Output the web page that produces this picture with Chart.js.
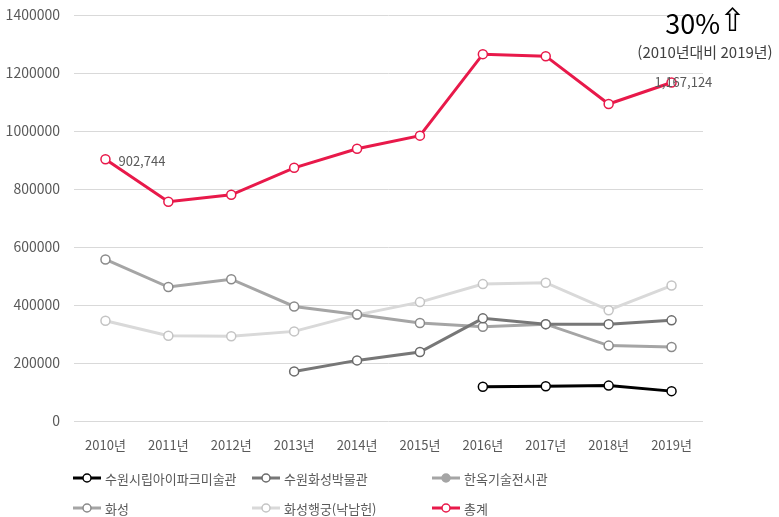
<!DOCTYPE html>
<html lang="ko">
<head>
<meta charset="utf-8">
<title>수원시 문화시설 관람객 추이</title>
<script src="https://cdn.jsdelivr.net/npm/chart.js@4"></script>
<style>
  html, body { margin: 0; padding: 0; background: #fff; }
  #wrap { width: 779px; height: 517px; }
</style>
</head>
<body>
<div id="wrap"><canvas id="chart" width="779" height="517"></canvas></div>
<script>
const years = ['2010년', '2011년', '2012년', '2013년', '2014년', '2015년', '2016년', '2017년', '2018년', '2019년'];

// 시설별 연간 관람객 수
const artMuseum = [null, null, null, null, null, null, 118000, 120000, 122000, 103000];
const hwaseongMuseum = [null, null, null, 171000, 209000, 238000, 354000, 334000, 334000, 347000];
const hanokHall = [null, null, null, null, null, null, null, null, null, null];
const hwaseong = [557000, 462000, 489000, 395000, 367000, 338000, 325000, 334000, 260000, 255000];
const haenggung = [345744, 294000, 292000, 309000, 366000, 410000, 472000, 477000, 382000, 467000];
const total = [902744, 756000, 780000, 873000, 939000, 984000, 1265000, 1258000, 1093000, 1167124];

const yTicks = [0, 200000, 400000, 600000, 800000, 1000000, 1200000, 1400000];

const FONT = "'Noto Sans CJK KR', 'Noto Sans', sans-serif";
const TEXT = '#595959';

function line(label, data, color, pointBorder, pointFill, order) {
  return {
    label: label,
    data: data,
    borderColor: color,
    backgroundColor: color,
    borderWidth: 3,
    pointRadius: 4.5,
    pointBorderWidth: 1.5,
    pointBorderColor: pointBorder,
    pointBackgroundColor: pointFill,
    spanGaps: false,
    order: order
  };
}

// 범례: 3열 격자
const gridLegend = {
  id: 'gridLegend',
  afterDraw(chart) {
    const ctx = chart.ctx;
    const cols = [73, 252, 432];
    const rows = [478, 508];
    ctx.save();
    chart.data.datasets.forEach((ds, i) => {
      const x = cols[i % 3];
      const y = rows[Math.floor(i / 3)];
      ctx.strokeStyle = ds.borderColor;
      ctx.lineWidth = 3;
      ctx.beginPath();
      ctx.moveTo(x, y);
      ctx.lineTo(x + 28, y);
      ctx.stroke();
      ctx.beginPath();
      ctx.arc(x + 14, y, 4, 0, Math.PI * 2);
      ctx.fillStyle = ds.pointBackgroundColor;
      ctx.fill();
      ctx.lineWidth = 1.5;
      ctx.strokeStyle = ds.pointBorderColor;
      ctx.stroke();
      ctx.fillStyle = TEXT;
      ctx.font = '13px ' + FONT;
      ctx.textAlign = 'left';
      ctx.textBaseline = 'middle';
      ctx.fillText(ds.label, x + 32, y + 1);
    });
    ctx.restore();
  }
};

// 총계 값 표시와 증가율 문구
const notes = {
  id: 'notes',
  afterDatasetsDraw(chart) {
    const ctx = chart.ctx;
    const meta = chart.getDatasetMeta(5);
    const first = meta.data[0];
    const last = meta.data[meta.data.length - 1];
    ctx.save();
    ctx.fillStyle = TEXT;
    ctx.font = '13px ' + FONT;
    ctx.textBaseline = 'middle';
    ctx.textAlign = 'left';
    ctx.fillText(total[0].toLocaleString('en-US'), first.x + 13, first.y + 2);
    ctx.fillText(total[total.length - 1].toLocaleString('en-US'), last.x - 17, last.y);

    ctx.fillStyle = '#000';
    ctx.textAlign = 'right';
    ctx.font = '27px ' + FONT;
    ctx.fillText('30%', 720, 24);
    ctx.font = '32px "DejaVu Sans", sans-serif';
    ctx.textAlign = 'left';
    ctx.fillText('⇧', 719, 23);
    ctx.fillStyle = '#404040';
    ctx.font = '15px ' + FONT;
    ctx.textAlign = 'center';
    ctx.fillText('(2010년대비 2019년)', 705, 52);
    ctx.restore();
  }
};

new Chart(document.getElementById('chart'), {
  type: 'line',
  data: {
    labels: years,
    datasets: [
      line('수원시립아이파크미술관', artMuseum, '#000000', '#000000', '#ffffff', 1),
      line('수원화성박물관', hwaseongMuseum, '#777777', '#6a6a6a', '#ffffff', 1),
      line('한옥기술전시관', hanokHall, '#a5a5a5', '#a5a5a5', '#a5a5a5', 1),
      line('화성', hwaseong, '#a5a5a5', '#8a8a8a', '#ffffff', 1),
      line('화성행궁(낙남헌)', haenggung, '#d9d9d9', '#c4c4c4', '#ffffff', 1),
      line('총계', total, '#e8194a', '#e8194a', '#ffffff', 0)
    ]
  },
  options: {
    responsive: false,
    animation: false,
    layout: { padding: { top: 15, right: 76, bottom: 61, left: 0 } },
    plugins: {
      legend: { display: false },
      tooltip: { enabled: false }
    },
    scales: {
      x: {
        offset: true,
        grid: { display: false },
        border: { display: false },
        ticks: { color: TEXT, font: { family: FONT, size: 13 }, padding: 8, maxRotation: 0 },
        afterFit(axis) { axis.height = 35; }
      },
      y: {
        min: 0,
        max: 1400000,
        afterBuildTicks(axis) { axis.ticks = yTicks.map(v => ({ value: v })); },
        grid: { color: '#d9d9d9', lineWidth: 1, drawTicks: false },
        border: { display: false },
        ticks: {
          color: TEXT,
          font: { family: FONT, size: 14 },
          padding: 14,
          callback: v => String(v)
        },
        afterFit(axis) {
          axis.width = 74;
          axis.paddingTop = 0;
          axis.paddingBottom = 0;
        }
      }
    }
  },
  plugins: [gridLegend, notes]
});
</script>
</body>
</html>
